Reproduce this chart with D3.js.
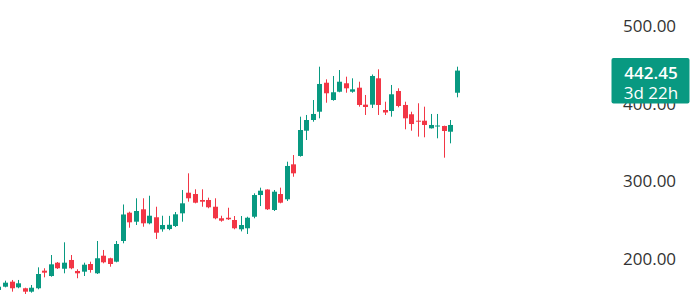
<!DOCTYPE html>
<html>
<head>
<meta charset="utf-8">
<script src="https://cdn.jsdelivr.net/npm/d3@7"></script>
<style>
  html, body { margin: 0; padding: 0; background: #ffffff; }
  svg { display: block; }
</style>
</head>
<body>
<svg id="chart" width="691" height="308"></svg>
<script>
// Daily candles (open, high, low, close), oldest first
const opens  = [159.4,163.6,170.1,162.8,161.6,157.2,161.6,184.3,177.4,194.6,186.8,198.1,183.9,183.0,192.9,180.9,203.6,200.3,195.9,222.6,259.1,247.5,263.5,245.4,253.2,237.7,238.0,241.9,258.3,284.9,283.2,275.5,275.5,266.8,251.9,252.6,249.7,237.7,239.0,253.9,281.9,289.0,262.6,283.2,276.4,321.5,332.3,364.9,378.7,389.4,426.8,404.5,415.2,426.1,415.2,420.4,398.5,398.5,432.5,391.6,390.3,416.1,398.1,386.1,377.8,377.8,368.0,370.3,371.0,363.6,413.9];
const highs  = [165.8,171.4,172.3,172.3,162.3,165.8,188.6,187.4,204.5,195.5,220.9,204.5,186.1,194.6,195.9,222.6,211.0,201.0,222.6,269.7,260.4,277.7,277.7,281.0,266.8,255.2,255.0,260.0,288.4,309.9,289.3,289.3,278.5,277.7,255.2,265.5,254.8,254.8,253.9,284.1,291.4,289.3,288.4,291.4,324.9,333.5,383.0,385.2,404.5,447.5,431.2,435.5,443.2,434.6,432.5,428.1,411.0,437.4,444.1,402.3,423.9,419.6,402.3,389.4,400.3,395.9,386.5,386.5,371.4,378.7,447.5];
const lows   = [158.1,162.8,157.2,161.6,154.2,155.9,160.3,175.7,176.5,186.5,180.9,186.1,174.5,177.4,181.7,180.0,193.8,189.4,195.1,219.6,239.7,243.2,241.0,244.1,225.2,234.6,236.5,240.6,247.5,273.3,271.2,266.8,264.8,250.6,247.5,249.7,237.7,235.0,231.6,251.9,267.7,262.6,261.3,271.2,274.2,305.5,331.4,352.9,376.5,380.9,401.0,403.6,414.5,413.9,413.9,395.9,385.2,394.2,385.2,385.2,383.0,395.1,366.7,364.9,357.2,356.4,367.7,355.1,330.1,348.6,408.0];
const closes = [163.6,168.8,161.6,168.0,157.2,162.3,180.0,181.7,192.5,187.4,194.6,187.4,180.9,192.0,185.2,200.3,195.1,192.9,218.7,256.8,246.7,261.3,245.4,255.2,233.3,243.2,243.5,257.0,271.2,277.7,272.0,273.3,266.1,251.9,248.8,250.6,239.0,243.2,252.6,281.9,287.5,263.5,286.2,272.0,319.4,309.9,365.8,378.7,386.5,425.2,413.2,414.5,428.1,419.6,418.3,398.1,395.5,435.5,398.1,388.4,411.9,396.8,380.9,373.5,376.5,372.3,372.3,371.6,364.5,372.3,442.45];
const priceTicks = [200, 300, 400, 500];
const lastPrice = 442.45;
const countdown = "3d 22h";

const UP = "#089981", DOWN = "#F23645";

const candles = opens.map((o, i) => ({ i, o, h: highs[i], l: lows[i], c: closes[i] }));

const svg = d3.select("#chart");
const x = d3.scaleLinear().domain([0, candles.length - 1]).range([-1.55, 457]);
const y = d3.scaleLinear().domain([200, 500]).range([258.5, 26]);

const bodyW = 5;

const g = svg.append("g");
// wicks
g.selectAll("line.wick").data(candles).join("line")
  .attr("class", "wick")
  .attr("x1", d => Math.round(x(d.i)) + 0.5)
  .attr("x2", d => Math.round(x(d.i)) + 0.5)
  .attr("y1", d => y(d.h))
  .attr("y2", d => y(d.l))
  .attr("stroke", d => d.c >= d.o ? UP : DOWN)
  .attr("stroke-width", 1);
// bodies
g.selectAll("rect.body").data(candles).join("rect")
  .attr("class", "body")
  .attr("x", d => Math.round(x(d.i)) + 0.5 - bodyW / 2)
  .attr("width", bodyW)
  .attr("y", d => y(Math.max(d.o, d.c)))
  .attr("height", d => Math.max(1, y(Math.min(d.o, d.c)) - y(Math.max(d.o, d.c))))
  .attr("fill", d => d.c >= d.o ? UP : DOWN);

// price axis
const axis = d3.axisRight(y).tickValues(priceTicks).tickSize(0).tickPadding(0)
  .tickFormat(d3.format(".2f"));
const ax = svg.append("g").attr("transform", "translate(623,0)").call(axis);
ax.select(".domain").remove();
ax.selectAll("text")
  .attr("fill", "#333333")
  .attr("font-family", "'Open Sans', sans-serif")
  .attr("font-size", 17)
  .attr("dy", "0.34em");

// last price label
const lab = svg.append("g");
lab.append("rect")
  .attr("x", 611.5).attr("y", 58).attr("width", 78).attr("height", 45.5)
  .attr("rx", 2).attr("fill", UP);
lab.append("text")
  .attr("x", 651).attr("y", 78.5)
  .attr("text-anchor", "middle")
  .attr("fill", "#ffffff")
  .attr("font-family", "'Open Sans', sans-serif")
  .attr("font-size", 17)
  .attr("font-weight", 600)
  .text(d3.format(".2f")(lastPrice));
lab.append("text")
  .attr("x", 651).attr("y", 99)
  .attr("text-anchor", "middle")
  .attr("fill", "#ffffff")
  .attr("font-family", "'Open Sans', sans-serif")
  .attr("font-size", 17)
  .text(countdown);
</script>
</body>
</html>
